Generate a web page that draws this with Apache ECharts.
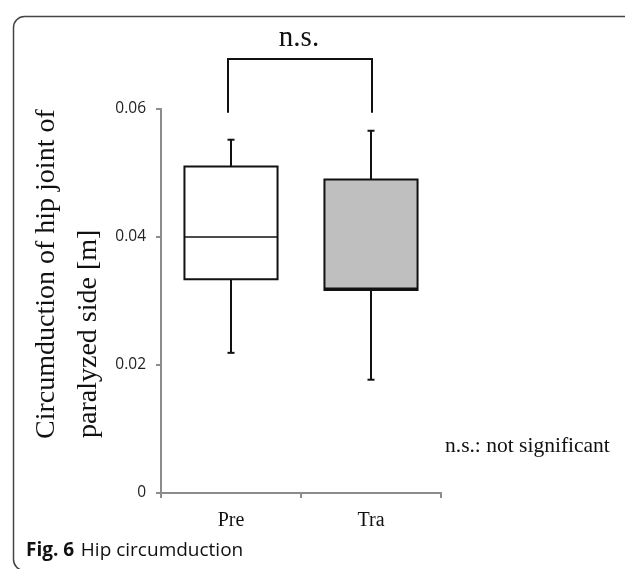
<!DOCTYPE html>
<html><head><meta charset="utf-8">
<script src="https://cdn.jsdelivr.net/npm/echarts@6/dist/echarts.min.js"></script>
<style>html,body{margin:0;padding:0;background:#fff}#c{width:625px;height:569px}</style>
</head><body><div id="c"></div>
<script>
// ---- data ----
const categories = ['Pre', 'Tra'];
// [min, Q1, median, Q3, max]
const boxPre = [0.0219, 0.0334, 0.0400, 0.0510, 0.0552];
const boxTra = [0.0177, 0.0317, 0.0320, 0.0490, 0.0566];
const boxFill = ['#ffffff', '#bfbfbf'];
const yTicks = [0, 0.02, 0.04, 0.06];
const yTickLabels = ['0', '0.02', '0.04', '0.06'];
// significance bracket: [lower end of legs, top of bracket]
const bracket = [0.0594, 0.0678];
const bracketLabel = 'n.s.';
const noteText = 'n.s.: not significant';
const yTitle1 = 'Circumduction of hip joint of';
const yTitle2 = 'paralyzed side [m]';

const chart = echarts.init(document.getElementById('c'), null, {renderer: 'canvas'});
const boxes = [boxPre, boxTra];

function boxRender(params, api) {
  const i = api.value(0);
  const v = boxes[i];
  const band = api.size([1, 0])[0];
  const w = band * 0.665;
  const cx = api.coord([i, 0])[0];
  const pMin = api.coord([i, v[0]])[1], pQ1 = api.coord([i, v[1]])[1],
        pMed = api.coord([i, v[2]])[1], pQ3 = api.coord([i, v[3]])[1],
        pMax = api.coord([i, v[4]])[1];
  const cap = 7;
  const ls = {stroke: '#111', lineWidth: 2};
  const children = [
    {type: 'line', shape: {x1: cx, y1: pMax, x2: cx, y2: pQ3}, style: ls},
    {type: 'line', shape: {x1: cx, y1: pMin, x2: cx, y2: pQ1}, style: ls},
    {type: 'line', shape: {x1: cx - cap / 2, y1: pMax, x2: cx + cap / 2, y2: pMax}, style: ls},
    {type: 'line', shape: {x1: cx - cap / 2, y1: pMin, x2: cx + cap / 2, y2: pMin}, style: ls},
    {type: 'rect', shape: {x: cx - w / 2, y: pQ3, width: w, height: pQ1 - pQ3},
      style: {fill: boxFill[i], stroke: '#111', lineWidth: 2}},
    {type: 'line', shape: {x1: cx - w / 2, y1: pMed, x2: cx + w / 2, y2: pMed}, style: {stroke: '#111', lineWidth: 1.6}}
  ];
  return {type: 'group', children: children};
}

function bracketRender(params, api) {
  const xl = api.coord([0, bracket[1]])[0] - 3;
  const xr = api.coord([1, bracket[1]])[0] + 1;
  const yTop = api.coord([0, bracket[1]])[1];
  const yLow = api.coord([0, bracket[0]])[1];
  return {type: 'group', children: [
    {type: 'polyline', shape: {points: [[xl, yLow], [xl, yTop], [xr, yTop], [xr, yLow]]},
      style: {stroke: '#111', lineWidth: 2, fill: null}},
    {type: 'text', style: {text: bracketLabel, x: (xl + xr) / 2 - 1, y: yTop - 6,
      align: 'center', verticalAlign: 'bottom',
      font: '29px "Liberation Serif", serif', fill: '#111'}}
  ]};
}

chart.setOption({
  animation: false,
  backgroundColor: '#ffffff',
  grid: {left: 161, right: 184, top: 109, bottom: 76},
  xAxis: {
    type: 'category', data: categories,
    axisLine: {lineStyle: {color: '#8c8c8c', width: 2}},
    axisTick: {show: true, length: 5, lineStyle: {color: '#8c8c8c', width: 2}},
    axisLabel: {margin: 18, fontFamily: '"Liberation Serif", serif', fontSize: 20, color: '#111'}
  },
  yAxis: {
    type: 'value', min: 0, max: 0.06, interval: 0.02,
    axisLine: {show: true, lineStyle: {color: '#8c8c8c', width: 2}},
    axisTick: {show: true, length: 5, lineStyle: {color: '#8c8c8c', width: 2}},
    splitLine: {show: false},
    axisLabel: {margin: 15, fontFamily: '"Open Sans", sans-serif', fontSize: 15.5, color: '#222',
      formatter: function (v) { const k = yTicks.findIndex(t => Math.abs(t - v) < 1e-9); return k >= 0 ? yTickLabels[k] : ''; }}
  },
  series: [
    {type: 'custom', renderItem: boxRender, data: [[0], [1]], clip: false, z: 3},
    {type: 'custom', renderItem: bracketRender, data: [[0]], clip: false, z: 3}
  ],
  graphic: [
    {type: 'rect', left: 11, top: 14, shape: {width: 720, height: 554, r: 11},
      style: {fill: 'none', stroke: '#444', lineWidth: 1.5}, z: 0},
    {type: 'text', x: 47, y: 439, rotation: Math.PI / 2,
      style: {text: yTitle1, font: '28px "Liberation Serif", serif', fill: '#111', align: 'left', verticalAlign: 'middle'}},
    {type: 'text', x: 89, y: 438, rotation: Math.PI / 2,
      style: {text: yTitle2, font: '28px "Liberation Serif", serif', fill: '#111', align: 'left', verticalAlign: 'middle'}},
    {type: 'text', x: 445, y: 446,
      style: {text: noteText, font: '21.5px "Liberation Serif", serif', fill: '#111', align: 'left', verticalAlign: 'middle'}},
    {type: 'text', x: 26, y: 551,
      style: {text: '{b|Fig. 6}  {r|Hip circumduction}', verticalAlign: 'middle',
        rich: {b: {fontFamily: '"Open Sans", sans-serif', fontWeight: 'bold', fontSize: 19, fill: '#111'},
               r: {fontFamily: '"Open Sans", sans-serif', fontSize: 19, fill: '#111'}}}}
  ]
});
</script></body></html>
